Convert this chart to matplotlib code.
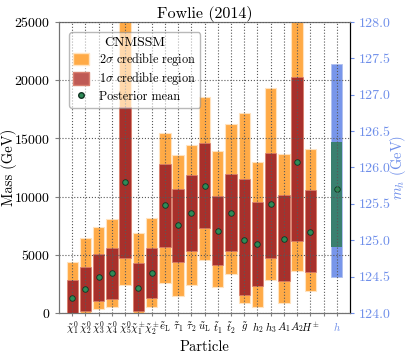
import matplotlib
matplotlib.use('Agg')
import matplotlib.pyplot as plt
from matplotlib.patches import Patch
from matplotlib.lines import Line2D
import numpy as np

plt.rcParams['font.family'] = ['cmr10', 'DejaVu Serif']
plt.rcParams['mathtext.fontset'] = 'cm'
plt.rcParams['axes.formatter.use_mathtext'] = True

# sparticle masses (GeV)
labels = [r'$\tilde{\chi}^0_1$', r'$\tilde{\chi}^0_2$', r'$\tilde{\chi}^0_3$', r'$\tilde{\chi}^0_4$',
          r'$\tilde{\chi}^0_5$', r'$\tilde{\chi}^\pm_1$', r'$\tilde{\chi}^\pm_2$', r'$\tilde{e}_\mathrm{L}$',
          r'$\tilde{\tau}_1$', r'$\tilde{\tau}_2$', r'$\tilde{u}_\mathrm{L}$', r'$\tilde{t}_1$',
          r'$\tilde{t}_2$', r'$\tilde{g}$', r'$h_2$', r'$h_3$', r'$A_1$', r'$A_2$', r'$H^\pm$']
lo2 = [0, 0, 370, 515, 2405, 0, 545, 2550, 1460, 2405, 4550, 2200, 3350, 890, 545, 2835, 830, 3610, 1890]
hi2 = [4400, 6440, 7415, 8070, 27000, 6870, 8190, 15490, 13570, 14430, 18550, 13940, 16210, 17150,
       13000, 19300, 13660, 27000, 14090]
lo1 = [0, 170, 1060, 1200, 4750, 200, 1290, 5700, 4350, 5320, 7300, 4120, 5330, 1520, 2350, 4700,
       2780, 6190, 3500]
hi1 = [2800, 3980, 5070, 5560, 17670, 4320, 5610, 12770, 10650, 11850, 14570, 10080, 11900, 11500,
       9560, 13720, 10140, 20270, 10570]
mean = [1290, 2060, 3090, 3410, 11280, 2175, 3465, 9280, 7560, 8620, 10940, 7010, 8620, 6270, 5900,
        9390, 6330, 13000, 6960]

# light higgs (GeV)
h_label = r'$h$'
h_lo2, h_lo1, h_hi1, h_hi2 = 124.49, 124.91, 126.35, 127.42
h_mean = 125.70

orange = '#ffaa46'
red = '#a8302b'
blue = '#7896ea'
green = '#3a8070'
mcol = '#2e8b57'
tcol = '#6f8fea'

fig = plt.figure(figsize=(4.07, 3.53), dpi=100)
ax = fig.add_axes([0.145, 0.1133, 0.715, 0.8244])
ax2 = ax.twinx()

x = np.arange(1, len(labels) + 1)
w = 0.86
ax.bar(x, np.array(hi2) - np.array(lo2), bottom=lo2, width=w, color=orange,
       edgecolor='#ffe3c0', linewidth=0.8, zorder=1)
ax.bar(x, np.array(hi1) - np.array(lo1), bottom=lo1, width=w, color=red,
       edgecolor='#d98070', linewidth=0.5, zorder=2)
ax.plot(x, mean, 'o', color=mcol, markeredgecolor='#113322', markersize=4,
        markeredgewidth=0.6, zorder=4)

# higgs on its own axis
hx = len(labels) + 2
ax2.bar([hx], [h_hi2 - h_lo2], bottom=[h_lo2], width=w, color=blue, edgecolor='#b0c0f0',
        linewidth=0.6)
ax2.bar([hx], [h_hi1 - h_lo1], bottom=[h_lo1], width=w, color=green, linewidth=0)
ax2.plot([hx], [h_mean], 'o', color=mcol, markeredgecolor='#113322', markersize=4,
         markeredgewidth=0.6)

ax.set_zorder(ax2.get_zorder() + 1)
ax.patch.set_visible(False)

ax.set_xlim(0, hx + 1)
ax.set_ylim(0, 25000)
ax2.set_ylim(124, 128)
ticks = list(x) + [len(labels) + 1, hx]
ax.set_xticks(ticks)
ax.set_xticklabels(labels + ['', h_label], fontsize=7.8)
ax.get_xticklabels()[-1].set_color(tcol)
ax.set_yticks(np.arange(0, 25001, 5000))
ax.tick_params(axis='y', labelsize=10, length=3, color='0.5')
ax.tick_params(axis='x', length=2, color='0.5', pad=3)
ax.grid(True, ls=':', color='0.35', lw=0.8, zorder=3)
ax.set_axisbelow(False)

ax2.set_yticks(np.arange(124, 128.01, 0.5))
ax2.set_yticklabels(['%.1f' % v for v in np.arange(124, 128.01, 0.5)])
ax2.tick_params(axis='y', colors=tcol, labelsize=10, length=3)
ax2.set_ylabel(r'$m_h$ (GeV)', color=tcol, fontsize=10.5)
ax2.yaxis.set_label_coords(1.13, 0.5)

for s in ['left', 'bottom', 'top']:
    ax.spines[s].set_color('0.45')
    ax2.spines[s].set_color('0.45')
ax2.spines['right'].set_color('black')
ax.spines['right'].set_color('black')

ax.set_xlabel('Particle', fontsize=10.5, labelpad=2)
ax.set_ylabel('Mass (GeV)', fontsize=10.5)
ax.yaxis.set_label_coords(-0.145, 0.5)
ax.set_title('Fowlie (2014)', fontsize=11.5, pad=3)

handles = [Patch(facecolor=orange, edgecolor='#ffe3c0'),
           Patch(facecolor='#bf5a55', edgecolor='#d98070'),
           Line2D([], [], marker='o', ls='', color=mcol, markeredgecolor='#113322', markersize=4)]
leg = ax.legend(handles, [r'2$\sigma$ credible region', r'1$\sigma$ credible region', 'Posterior mean'],
                title='CNMSSM', loc='upper left', bbox_to_anchor=(0.035, 0.965), borderaxespad=0,
                fontsize=8.8, title_fontsize=10, framealpha=0.55, edgecolor='0.5',
                handlelength=1.3, handleheight=1.2, labelspacing=0.2, borderpad=0.35)
leg.set_zorder(10)

fig.savefig('out.png', dpi=100)
